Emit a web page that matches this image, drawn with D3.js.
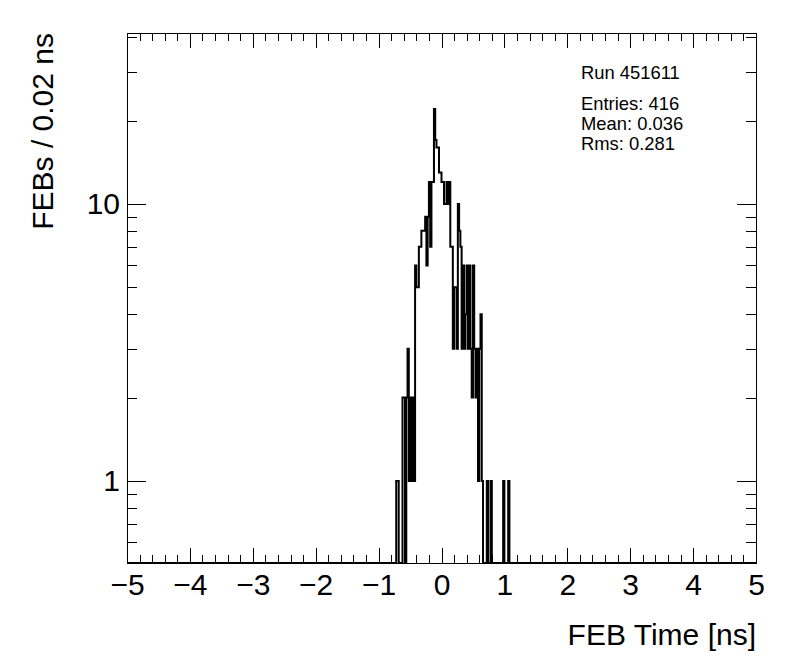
<!DOCTYPE html>
<meta charset="utf-8">
<style>
body { margin: 0; background: #fff; }
svg text { font-family: "Liberation Sans", Arial, Helvetica, sans-serif; fill: #000; }
.tick line { stroke: #000; shape-rendering: crispEdges; }
</style>
<body>
<script src="https://d3js.org/d3.v7.min.js"></script>
<script>
// FEB timing histogram, 0.02 ns bins; counts start at the bin edge firstEdge
var firstEdge = -0.72, binWidth = 0.02;
var counts = [
  1, 1, 0, 0, 0, 2, 2, 0, 2, 3,
  1, 2, 1, 2, 1, 6, 5, 5, 7, 7,
  8, 8, 8, 9, 6, 9, 12, 7, 12, 12,
  22, 17, 16, 16, 13, 13, 12, 12, 10, 10,
  12, 10, 12, 7, 7, 3, 5, 5, 3, 10,
  8, 7, 3, 6, 3, 4, 6, 3, 6, 3,
  2, 6, 3, 2, 3, 1, 3, 4, 1, 0,
  0, 0, 1, 0, 0, 1, 0, 0, 0, 0,
  0, 0, 0, 0, 0, 1, 0, 0, 0, 1
];
var xMajor = [-5, -4, -3, -2, -1, 0, 1, 2, 3, 4, 5];
var yMajor = [1, 10];
var yMinor = [0.6, 0.7, 0.8, 0.9, 2, 3, 4, 5, 6, 7, 8, 9, 20, 30, 40];
var statLines = ["Run 451611", "Entries: 416", "Mean: 0.036", "Rms: 0.281"];
var xTitle = "FEB Time [ns]", yTitle = "FEBs / 0.02 ns";

var W = 796, H = 672;
var pLeft = 127, pRight = 756, pTop = 33, pBottom = 563;

var svg = d3.select("body").append("svg")
    .attr("width", W)
    .attr("height", H);

var x = d3.scaleLinear().domain([-5, 5]).range([pLeft, pRight]);
var y = d3.scaleLog().domain([0.506, 41.4]).range([pBottom, pTop]);

// minor x ticks every 0.2
var xMinor = [];
for (var i = 0; i <= 50; i++) {
  if (i % 5 != 0) xMinor.push(-5 + i * 0.2);
}

var fontFam = "Liberation Sans, Arial, Helvetica, sans-serif";

function tidy(g) {
  g.select(".domain").remove();
  g.attr("font-family", fontFam).attr("font-size", 30);
  g.selectAll(".tick text").attr("fill", "#000");
}

// bottom axis
svg.append("g")
    .attr("transform", "translate(0," + pBottom + ")")
    .call(d3.axisBottom(x).tickValues(xMajor).tickSize(-15).tickPadding(11).tickFormat(d3.format("d")))
    .call(tidy);
svg.append("g")
    .attr("transform", "translate(0," + pBottom + ")")
    .call(d3.axisBottom(x).tickValues(xMinor).tickSize(-8).tickFormat(""))
    .call(tidy);

// top axis (ticks only)
svg.append("g")
    .attr("transform", "translate(0," + pTop + ")")
    .call(d3.axisTop(x).tickValues(xMajor).tickSize(-15).tickFormat(""))
    .call(tidy);
svg.append("g")
    .attr("transform", "translate(0," + pTop + ")")
    .call(d3.axisTop(x).tickValues(xMinor).tickSize(-8).tickFormat(""))
    .call(tidy);

// left axis
svg.append("g")
    .attr("transform", "translate(" + pLeft + ",0)")
    .call(d3.axisLeft(y).tickValues(yMajor).tickSize(-19).tickPadding(7).tickFormat(d3.format("d")))
    .call(tidy);
svg.append("g")
    .attr("transform", "translate(" + pLeft + ",0)")
    .call(d3.axisLeft(y).tickValues(yMinor).tickSize(-10).tickFormat(""))
    .call(tidy);

// right axis (ticks only)
svg.append("g")
    .attr("transform", "translate(" + pRight + ",0)")
    .call(d3.axisRight(y).tickValues(yMajor).tickSize(-19).tickFormat(""))
    .call(tidy);
svg.append("g")
    .attr("transform", "translate(" + pRight + ",0)")
    .call(d3.axisRight(y).tickValues(yMinor).tickSize(-10).tickFormat(""))
    .call(tidy);

// frame
svg.append("rect")
    .attr("x", pLeft).attr("y", pTop)
    .attr("width", pRight - pLeft).attr("height", pBottom - pTop)
    .attr("fill", "none").attr("stroke", "#000").attr("stroke-width", 1)
    .attr("shape-rendering", "crispEdges");

// histogram outline
var pts = [[-5, 0]];
counts.forEach(function(c, i) { pts.push([firstEdge + i * binWidth, c]); });
pts.push([firstEdge + counts.length * binWidth, 0]);
pts.push([5, 0]);

var line = d3.line()
    .x(function(d) { return x(d[0]); })
    .y(function(d) { return d[1] > 0 ? y(d[1]) : pBottom; })
    .curve(d3.curveStepAfter);

svg.append("path")
    .datum(pts)
    .attr("d", line)
    .attr("fill", "none")
    .attr("stroke", "#000")
    .attr("stroke-width", 2);

// stats box text
var statY = [79, 110, 130, 150];
svg.selectAll(".stat")
    .data(statLines)
    .enter().append("text")
    .attr("class", "stat")
    .attr("x", 581)
    .attr("y", function(d, i) { return statY[i]; })
    .style("font-size", "18.4px")
    .text(function(d) { return d; });

// axis titles
svg.append("text")
    .attr("x", pRight)
    .attr("y", 645)
    .style("text-anchor", "end")
    .style("font-size", "30px")
    .text(xTitle);

svg.append("text")
    .attr("transform", "translate(53," + pTop + ") rotate(-90)")
    .style("text-anchor", "end")
    .style("font-size", "30px")
    .text(yTitle);
</script>
</body>
